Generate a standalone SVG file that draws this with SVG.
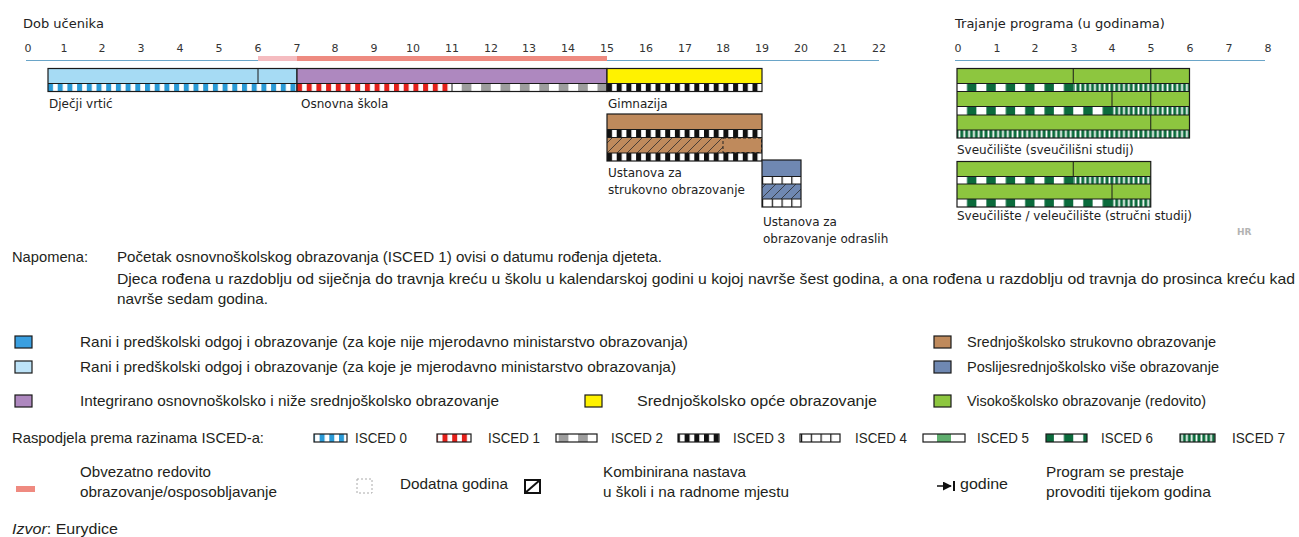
<svg xmlns="http://www.w3.org/2000/svg" width="1299" height="537" viewBox="0 0 1299 537">
<style>
.ax{font-family:"DejaVu Sans",Verdana,sans-serif;font-size:11px;fill:#333;text-anchor:middle}
.tt{font-family:"DejaVu Sans",Verdana,sans-serif;font-size:13px;fill:#222}
.lb{font-family:"DejaVu Sans",Verdana,sans-serif;font-size:12px;fill:#222}
.lg{font-family:"Liberation Sans",Arial,sans-serif;font-size:15px;fill:#231f20}
.ol{fill:none;stroke:#1a1a1a;stroke-width:1.2}
.sep{stroke:#1a1a1a;stroke-width:1}
.sw{stroke:#1a1a1a;stroke-width:1.2}
</style>
<defs>
<pattern id="p0" patternUnits="userSpaceOnUse" x="48" width="9.7" height="40"><rect width="9.7" height="40" fill="#fff"/><rect width="5" height="40" fill="#2a9ad6"/></pattern>
<pattern id="p1" patternUnits="userSpaceOnUse" x="297" width="9.7" height="40"><rect width="9.7" height="40" fill="#fff"/><rect width="5" height="40" fill="#e3201b"/></pattern>
<pattern id="p2" patternUnits="userSpaceOnUse" x="452" width="19.4" height="40"><rect width="19.4" height="40" fill="#fff"/><rect x="9.7" width="9.7" height="40" fill="#9d9d9d"/></pattern>
<pattern id="p3" patternUnits="userSpaceOnUse" x="607" width="9.7" height="40"><rect width="9.7" height="40" fill="#fff"/><rect width="5" height="40" fill="#111"/></pattern>
<pattern id="p4" patternUnits="userSpaceOnUse" x="762" width="9.75" height="40"><rect width="9.75" height="40" fill="#fff"/><rect width="1.2" height="40" fill="#111"/></pattern>
<pattern id="p5" patternUnits="userSpaceOnUse" x="923" width="42" height="40"><rect width="42" height="40" fill="#fff"/><rect x="14" width="14" height="40" fill="#5fae6e"/></pattern>
<pattern id="p6" patternUnits="userSpaceOnUse" x="957" width="19.375" height="40"><rect width="19.375" height="40" fill="#fff"/><rect x="10" width="9.375" height="40" fill="#0b6b3c"/></pattern>
<pattern id="p7" patternUnits="userSpaceOnUse" x="957" width="4.84" height="40"><rect width="4.84" height="40" fill="#0b6b3c"/><rect x="1.5" width="1.8" height="40" fill="#fff"/></pattern>
<pattern id="hb" patternUnits="userSpaceOnUse" width="10" height="10"><rect width="10" height="10" fill="#bf8a5c"/><path d="M-2,2 L2,-2 M0,10 L10,0 M8,12 L12,8" stroke="#2b2b2b" stroke-width="0.8"/></pattern>
<pattern id="hg" patternUnits="userSpaceOnUse" width="10" height="10"><rect width="10" height="10" fill="#6f88b2"/><path d="M-2,2 L2,-2 M0,10 L10,0 M8,12 L12,8" stroke="#2b2b2b" stroke-width="0.8"/></pattern>
<marker id="ar" viewBox="0 0 10 10" refX="9" refY="5" markerWidth="6" markerHeight="6" orient="auto"><path d="M0,0 L10,5 L0,10 z" fill="#111"/></marker>
</defs>
<rect width="1299" height="537" fill="#fff"/>

<!-- Left axis -->
<g id="axis-age">
<text class="tt" x="23" y="28">Dob učenika</text>
<g>
<text class="ax" x="28" y="52">0</text><text class="ax" x="64" y="52">1</text><text class="ax" x="102" y="52">2</text><text class="ax" x="141" y="52">3</text><text class="ax" x="180" y="52">4</text><text class="ax" x="219" y="52">5</text><text class="ax" x="258" y="52">6</text><text class="ax" x="297" y="52">7</text><text class="ax" x="335" y="52">8</text><text class="ax" x="374" y="52">9</text><text class="ax" x="413" y="52">10</text><text class="ax" x="452" y="52">11</text><text class="ax" x="491" y="52">12</text><text class="ax" x="529" y="52">13</text><text class="ax" x="568" y="52">14</text><text class="ax" x="607" y="52">15</text><text class="ax" x="646" y="52">16</text><text class="ax" x="685" y="52">17</text><text class="ax" x="723" y="52">18</text><text class="ax" x="762" y="52">19</text><text class="ax" x="801" y="52">20</text><text class="ax" x="840" y="52">21</text><text class="ax" x="879" y="52">22</text>
</g>
<line x1="26" y1="60.5" x2="879" y2="60.5" stroke="#6aa5c8" stroke-width="1"/>
<rect x="258" y="56" width="39" height="5" fill="#f5bcc0"/>
<rect x="297" y="56" width="310" height="5" fill="#ee8a80"/>
</g>

<!-- Left bars -->
<g id="n-vrtic">
<rect x="48" y="68.5" width="249" height="15" fill="#a6dbf4"/>
<rect x="48" y="83.5" width="249" height="8" fill="url(#p0)"/>
<line class="sep" x1="258" y1="68.5" x2="258" y2="83.5"/>
<line class="sep" x1="48" y1="83.5" x2="297" y2="83.5"/>
<rect class="ol" x="48" y="68.5" width="249" height="23"/>
<text class="lb" x="49" y="108">Dječji vrtić</text>
</g>
<g id="n-osnovna">
<rect x="297" y="68.5" width="310" height="15" fill="#ae88bf"/>
<rect x="297" y="83.5" width="155" height="8" fill="url(#p1)"/>
<rect x="452" y="83.5" width="155" height="8" fill="url(#p2)"/>
<line class="sep" x1="452" y1="83.5" x2="452" y2="91.5"/>
<line class="sep" x1="297" y1="83.5" x2="607" y2="83.5"/>
<rect class="ol" x="297" y="68.5" width="310" height="23"/>
<text class="lb" x="301" y="108">Osnovna škola</text>
</g>
<g id="n-gimnazija">
<rect x="607" y="68.5" width="155" height="15" fill="#fff200"/>
<rect x="607" y="83.5" width="155" height="8" fill="url(#p3)"/>
<line class="sep" x1="607" y1="83.5" x2="762" y2="83.5"/>
<rect class="ol" x="607" y="68.5" width="155" height="23"/>
<text class="lb" x="608" y="108">Gimnazija</text>
</g>
<g id="n-strukovna">
<rect x="607" y="114" width="155" height="15.5" fill="#bf8a5c"/>
<rect x="607" y="129.5" width="155" height="8" fill="url(#p3)"/>
<rect x="607" y="137.5" width="116" height="15.5" fill="url(#hb)"/>
<rect x="723" y="137.5" width="39" height="15.5" fill="#bf8a5c"/>
<rect x="723" y="138" width="38.5" height="14.5" fill="none" stroke="#222" stroke-width="1" stroke-dasharray="3,2"/>
<rect x="607" y="153" width="155" height="8" fill="url(#p3)"/>
<line class="sep" x1="607" y1="129.5" x2="762" y2="129.5"/>
<line class="sep" x1="607" y1="137.5" x2="762" y2="137.5"/>
<line class="sep" x1="607" y1="153" x2="762" y2="153"/>
<rect class="ol" x="607" y="114" width="155" height="47"/>
<text class="lb" x="608" y="177">Ustanova za</text>
<text class="lb" x="608" y="194">strukovno obrazovanje</text>
</g>
<g id="n-odrasli">
<rect x="762" y="160" width="39" height="16.5" fill="#6f88b2"/>
<rect x="762" y="176.5" width="39" height="7.5" fill="url(#p4)"/>
<rect x="762" y="184" width="39" height="15" fill="url(#hg)"/>
<rect x="762" y="199" width="39" height="8" fill="url(#p4)"/>
<line class="sep" x1="762" y1="176.5" x2="801" y2="176.5"/>
<line class="sep" x1="762" y1="184" x2="801" y2="184"/>
<line class="sep" x1="762" y1="199" x2="801" y2="199"/>
<rect class="ol" x="762" y="160" width="39" height="47"/>
<text class="lb" x="763" y="226">Ustanova za</text>
<text class="lb" x="763" y="243">obrazovanje odraslih</text>
</g>

<!-- Right axis -->
<g id="axis-duration">
<text class="tt" x="955" y="28">Trajanje programa (u godinama)</text>
<text class="ax" x="958" y="52">0</text><text class="ax" x="997" y="52">1</text><text class="ax" x="1035" y="52">2</text><text class="ax" x="1074" y="52">3</text><text class="ax" x="1112" y="52">4</text><text class="ax" x="1151" y="52">5</text><text class="ax" x="1190" y="52">6</text><text class="ax" x="1229" y="52">7</text><text class="ax" x="1268" y="52">8</text>
<line x1="955" y1="60.5" x2="1265" y2="60.5" stroke="#6aa5c8" stroke-width="1"/>
</g>

<g id="n-sveuciliste">
<rect x="957" y="68.5" width="232.5" height="15" fill="#8dc63f"/>
<rect x="957" y="83.5" width="116.25" height="8" fill="url(#p6)"/>
<rect x="1073.25" y="83.5" width="116.25" height="8" fill="url(#p7)"/>
<rect x="957" y="91.5" width="232.5" height="15" fill="#8dc63f"/>
<rect x="957" y="106.5" width="155" height="8.5" fill="url(#p6)"/>
<rect x="1112" y="106.5" width="77.5" height="8.5" fill="url(#p7)"/>
<rect x="957" y="115" width="232.5" height="15" fill="#8dc63f"/>
<rect x="957" y="130" width="232.5" height="8" fill="url(#p7)"/>
<line class="sep" x1="1073.25" y1="68.5" x2="1073.25" y2="83.5"/>
<line class="sep" x1="1150.75" y1="68.5" x2="1150.75" y2="83.5"/>
<line class="sep" x1="1112" y1="91.5" x2="1112" y2="106.5"/>
<line class="sep" x1="1150.75" y1="91.5" x2="1150.75" y2="106.5"/>
<line class="sep" x1="1150.75" y1="115" x2="1150.75" y2="130"/>
<line class="sep" x1="957" y1="83.5" x2="1189.5" y2="83.5"/>
<line class="sep" x1="957" y1="91.5" x2="1189.5" y2="91.5"/>
<line class="sep" x1="957" y1="106.5" x2="1189.5" y2="106.5"/>
<line class="sep" x1="957" y1="115" x2="1189.5" y2="115"/>
<line class="sep" x1="957" y1="130" x2="1189.5" y2="130"/>
<rect class="ol" x="957" y="68.5" width="232.5" height="69.5"/>
<text class="lb" x="957" y="154">Sveučilište (sveučilišni studij)</text>
</g>
<g id="n-strucni">
<rect x="957" y="161.5" width="193.75" height="15" fill="#8dc63f"/>
<rect x="957" y="176.5" width="116.25" height="7.5" fill="url(#p6)"/>
<rect x="1073.25" y="176.5" width="77.5" height="7.5" fill="url(#p7)"/>
<rect x="957" y="184" width="193.75" height="15" fill="#8dc63f"/>
<rect x="957" y="199" width="155" height="8" fill="url(#p6)"/>
<rect x="1112" y="199" width="38.75" height="8" fill="url(#p7)"/>
<line class="sep" x1="1073.25" y1="161.5" x2="1073.25" y2="176.5"/>
<line class="sep" x1="1112" y1="184" x2="1112" y2="199"/>
<line class="sep" x1="957" y1="176.5" x2="1150.75" y2="176.5"/>
<line class="sep" x1="957" y1="184" x2="1150.75" y2="184"/>
<line class="sep" x1="957" y1="199" x2="1150.75" y2="199"/>
<rect class="ol" x="957" y="161.5" width="193.75" height="45.5"/>
<text class="lb" x="957" y="220">Sveučilište / veleučilište (stručni studij)</text>
</g>
<text x="1237" y="235" font-family="DejaVu Sans,sans-serif" font-size="9" font-weight="bold" fill="#b3b3b3">HR</text>

<!-- Note -->
<g id="note">
<text class="lg" x="12" y="262" textLength="76" lengthAdjust="spacingAndGlyphs">Napomena:</text>
<text class="lg" x="117" y="262" textLength="545" lengthAdjust="spacingAndGlyphs">Početak osnovnoškolskog obrazovanja (ISCED 1) ovisi o datumu rođenja djeteta.</text>
<text class="lg" x="117" y="284" textLength="1178" lengthAdjust="spacingAndGlyphs">Djeca rođena u razdoblju od siječnja do travnja kreću u školu u kalendarskoj godini u kojoj navrše šest godina, a ona rođena u razdoblju od travnja do prosinca kreću kad</text>
<text class="lg" x="117" y="304" textLength="151" lengthAdjust="spacingAndGlyphs">navrše sedam godina.</text>
</g>

<!-- Legend -->
<g id="legend-colours">
<rect class="sw" x="15" y="336" width="17" height="12" fill="#3a9fe0"/>
<text class="lg" x="80" y="347" textLength="608" lengthAdjust="spacingAndGlyphs">Rani i predškolski odgoj i obrazovanje (za koje nije mjerodavno ministarstvo obrazovanja)</text>
<rect class="sw" x="15" y="361" width="17" height="12" fill="#bde3f8"/>
<text class="lg" x="80" y="372" textLength="596" lengthAdjust="spacingAndGlyphs">Rani i predškolski odgoj i obrazovanje (za koje je mjerodavno ministarstvo obrazovanja)</text>
<rect class="sw" x="15" y="395" width="17" height="12" fill="#ae88bf"/>
<text class="lg" x="80" y="406" textLength="419" lengthAdjust="spacingAndGlyphs">Integrirano osnovnoškolsko i niže srednjoškolsko obrazovanje</text>
<rect class="sw" x="585" y="395" width="17" height="12" fill="#fff200"/>
<text class="lg" x="637" y="406" textLength="240" lengthAdjust="spacingAndGlyphs">Srednjoškolsko opće obrazovanje</text>
<rect class="sw" x="934" y="336" width="17" height="12" fill="#bf8a5c"/>
<text class="lg" x="967" y="347" textLength="249" lengthAdjust="spacingAndGlyphs">Srednjoškolsko strukovno obrazovanje</text>
<rect class="sw" x="934" y="361" width="17" height="12" fill="#6f88b2"/>
<text class="lg" x="967" y="372" textLength="252" lengthAdjust="spacingAndGlyphs">Poslijesrednjoškolsko više obrazovanje</text>
<rect class="sw" x="934" y="395" width="17" height="12" fill="#8dc63f"/>
<text class="lg" x="967" y="406" textLength="239" lengthAdjust="spacingAndGlyphs">Visokoškolsko obrazovanje (redovito)</text>
</g>

<g id="legend-isced">
<text class="lg" x="12" y="443" textLength="252" lengthAdjust="spacingAndGlyphs">Raspodjela prema razinama ISCED-a:</text>
<rect class="sw" x="314" y="434" width="33" height="8" fill="url(#p0)"/>
<text class="lg" x="355" y="443" textLength="52" lengthAdjust="spacingAndGlyphs">ISCED 0</text>
<rect class="sw" x="437" y="434" width="34" height="8" fill="url(#p1)"/>
<text class="lg" x="488" y="443" textLength="52" lengthAdjust="spacingAndGlyphs">ISCED 1</text>
<rect class="sw" x="556" y="434" width="41" height="8" fill="url(#p2)"/>
<text class="lg" x="611" y="443" textLength="52" lengthAdjust="spacingAndGlyphs">ISCED 2</text>
<rect class="sw" x="678" y="434" width="41" height="8" fill="url(#p3)"/>
<text class="lg" x="733" y="443" textLength="52" lengthAdjust="spacingAndGlyphs">ISCED 3</text>
<rect class="sw" x="800" y="434" width="40" height="8" fill="url(#p4)"/>
<text class="lg" x="855" y="443" textLength="52" lengthAdjust="spacingAndGlyphs">ISCED 4</text>
<rect class="sw" x="923" y="434" width="42" height="8" fill="url(#p5)"/>
<text class="lg" x="977" y="443" textLength="52" lengthAdjust="spacingAndGlyphs">ISCED 5</text>
<rect class="sw" x="1046" y="434" width="41" height="8" fill="url(#p6)"/>
<text class="lg" x="1101" y="443" textLength="52" lengthAdjust="spacingAndGlyphs">ISCED 6</text>
<rect class="sw" x="1180" y="434" width="35" height="8" fill="url(#p7)"/>
<text class="lg" x="1232" y="443" textLength="53" lengthAdjust="spacingAndGlyphs">ISCED 7</text>
</g>

<g id="legend-symbols">
<rect x="16" y="486" width="19" height="6" fill="#ef8a80"/>
<text class="lg" x="80" y="477" textLength="131" lengthAdjust="spacingAndGlyphs">Obvezatno redovito</text>
<text class="lg" x="80" y="497" textLength="197" lengthAdjust="spacingAndGlyphs">obrazovanje/osposobljavanje</text>
<rect x="357" y="479" width="15" height="14" fill="none" stroke="#aaa" stroke-width="1" stroke-dasharray="2,2"/>
<text class="lg" x="400" y="489" textLength="108" lengthAdjust="spacingAndGlyphs">Dodatna godina</text>
<rect x="525" y="480" width="15" height="13" fill="#fff" stroke="#111" stroke-width="2"/>
<line x1="525" y1="493" x2="540" y2="480" stroke="#111" stroke-width="2"/>
<text class="lg" x="603" y="477" textLength="143" lengthAdjust="spacingAndGlyphs">Kombinirana nastava</text>
<text class="lg" x="603" y="497" textLength="186" lengthAdjust="spacingAndGlyphs">u školi i na radnome mjestu</text>
<line x1="937" y1="486" x2="951" y2="486" stroke="#111" stroke-width="1.5" marker-end="url(#ar)"/>
<line x1="954" y1="481" x2="954" y2="491" stroke="#111" stroke-width="2"/>
<text class="lg" x="960" y="489" textLength="48" lengthAdjust="spacingAndGlyphs">godine</text>
<text class="lg" x="1046" y="477" textLength="138" lengthAdjust="spacingAndGlyphs">Program se prestaje</text>
<text class="lg" x="1046" y="497" textLength="165" lengthAdjust="spacingAndGlyphs">provoditi tijekom godina</text>
</g>

<text class="lg" x="12" y="534" textLength="106" lengthAdjust="spacingAndGlyphs"><tspan font-style="italic">Izvor</tspan>: Eurydice</text>
</svg>
